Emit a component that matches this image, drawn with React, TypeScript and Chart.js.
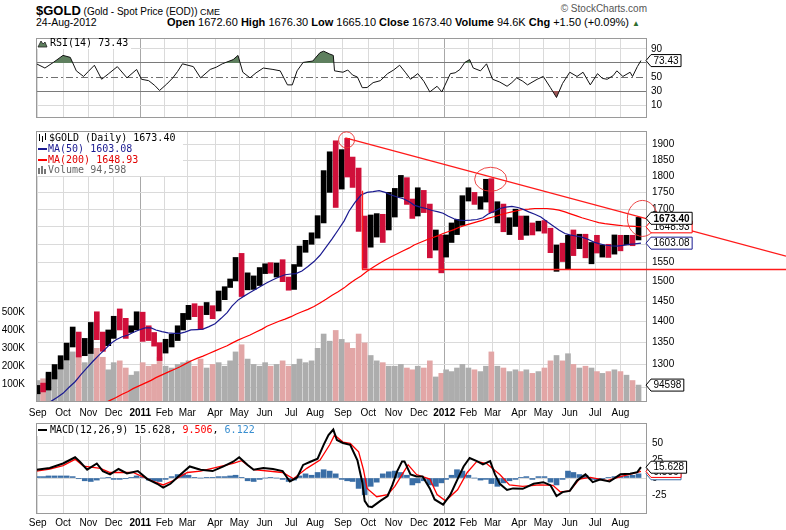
import React, { useEffect, useRef } from 'react';
import { Chart, registerables } from 'chart.js';

Chart.register(...registerables);

// ---------- calendar ----------
const FIRST_DAY = '2010-08-27';
const LAST_DAY = '2012-08-24';
const HOLIDAYS = [
  '2010-09-06', '2010-11-25', '2010-12-24', '2011-01-17', '2011-02-21', '2011-04-22',
  '2011-05-30', '2011-07-04', '2011-09-05', '2011-11-24', '2011-12-26', '2012-01-02',
  '2012-01-16', '2012-02-20', '2012-04-06', '2012-05-28', '2012-07-04',
];
const MONTH_NAMES = ['Jan', 'Feb', 'Mar', 'Apr', 'May', 'Jun', 'Jul', 'Aug', 'Sep', 'Oct', 'Nov', 'Dec'];

// ---------- weekly price data (weeks ending Fri, 2010-09-03 .. 2012-08-24) ----------
const PREV_CLOSE = 1237;
const WEEK_HIGH = [
  1254, 1259, 1283, 1300, 1320, 1349, 1387, 1375, 1360, 1398,
  1424, 1375, 1380, 1413, 1431, 1408, 1390, 1424, 1423, 1390,
  1374, 1350, 1358, 1370, 1390, 1420, 1440, 1444, 1438, 1447,
  1439, 1476, 1487, 1507, 1564, 1575, 1523, 1515, 1537, 1547,
  1550, 1549, 1558, 1512, 1545, 1595, 1611, 1632, 1681, 1817,
  1877, 1913, 1884, 1921, 1860, 1825, 1680, 1683, 1687, 1685,
  1750, 1762, 1802, 1795, 1730, 1764, 1756, 1715, 1640, 1625,
  1626, 1660, 1670, 1740, 1764, 1750, 1737, 1790, 1792, 1722,
  1715, 1675, 1700, 1680, 1680, 1660, 1665, 1667, 1645, 1598,
  1603, 1625, 1640, 1628, 1628, 1605, 1625, 1598, 1600, 1626,
  1625, 1625, 1625, 1676,
];
const WEEK_LOW = [
  1236, 1240, 1244, 1268, 1290, 1310, 1340, 1317, 1320, 1325,
  1357, 1330, 1343, 1360, 1380, 1360, 1374, 1380, 1353, 1355,
  1342, 1309, 1326, 1340, 1355, 1380, 1405, 1412, 1381, 1417,
  1407, 1426, 1454, 1485, 1502, 1462, 1479, 1480, 1490, 1521,
  1522, 1512, 1500, 1478, 1480, 1540, 1578, 1600, 1617, 1660,
  1750, 1705, 1760, 1797, 1765, 1636, 1535, 1592, 1620, 1605,
  1640, 1677, 1736, 1714, 1673, 1680, 1690, 1563, 1584, 1523,
  1565, 1605, 1627, 1653, 1724, 1714, 1700, 1721, 1690, 1660,
  1635, 1627, 1650, 1613, 1625, 1626, 1637, 1631, 1577, 1527,
  1553, 1532, 1569, 1588, 1563, 1547, 1576, 1565, 1564, 1573,
  1582, 1598, 1596, 1612,
];
const WEEK_CLOSE = [
  1248, 1246, 1276, 1296, 1317, 1345, 1370, 1325, 1357, 1394,
  1367, 1353, 1363, 1406, 1385, 1376, 1380, 1421, 1369, 1360,
  1343, 1339, 1348, 1361, 1388, 1409, 1429, 1420, 1418, 1430,
  1429, 1474, 1486, 1504, 1556, 1492, 1493, 1510, 1536, 1542,
  1529, 1539, 1502, 1483, 1542, 1592, 1602, 1628, 1663, 1745,
  1852, 1828, 1876, 1855, 1813, 1657, 1624, 1636, 1683, 1642,
  1746, 1753, 1788, 1724, 1685, 1746, 1711, 1598, 1606, 1566,
  1617, 1639, 1665, 1738, 1740, 1722, 1725, 1776, 1710, 1712,
  1656, 1662, 1668, 1629, 1660, 1642, 1663, 1644, 1580, 1592,
  1572, 1622, 1596, 1626, 1566, 1604, 1578, 1591, 1583, 1618,
  1605, 1620, 1616, 1673,
];
// average daily volume per week, thousands
const WEEK_VOLUME_K = [
  120, 130, 160, 170, 210, 230, 280, 260, 220, 270, 300, 250, 180, 220, 230, 190, 150, 170,
  220, 200, 210, 250, 200, 190, 210, 220, 230, 200, 240, 190, 210, 220, 200, 230, 280,
  320, 240, 210, 200, 220, 200, 210, 230, 200, 210, 240, 220, 230, 300, 380, 340, 400,
  350, 330, 300, 380, 330, 260, 230, 220, 200, 200, 210, 190, 180, 200, 190, 230, 140, 160,
  180, 170, 190, 210, 190, 180, 170, 200, 280, 200, 190, 170, 180, 170, 180, 160, 170,
  190, 230, 260, 230, 270, 210, 190, 200, 190, 170, 160, 170, 180, 170, 150, 120, 94.598,
];
const MA50 = [
  1213, 1216, 1220, 1228, 1237, 1250, 1262, 1278, 1293, 1308,
  1322, 1335, 1347, 1357, 1364, 1368, 1374, 1380, 1385, 1385,
  1380, 1376, 1373, 1372, 1372, 1375, 1380, 1381, 1382, 1388,
  1395, 1408, 1422, 1438, 1453, 1463, 1472, 1481, 1490, 1497,
  1505, 1512, 1518, 1520, 1521, 1528, 1540, 1553, 1570, 1592,
  1615, 1640, 1666, 1694, 1720, 1742, 1750, 1752, 1755, 1750,
  1742, 1736, 1731, 1722, 1712, 1706, 1702, 1696, 1692, 1688,
  1680, 1672, 1668, 1667, 1668, 1670, 1675, 1685, 1693, 1702,
  1706, 1708, 1705, 1700, 1692, 1685, 1677, 1664, 1652, 1640,
  1630, 1626, 1623, 1620, 1614, 1606, 1602, 1598, 1596, 1595,
  1597, 1600, 1601, 1603.08,
];
const MA200 = [
  null, null, null, null, null, null, null, null, null, null,
  null, 1217, 1222, 1228, 1235, 1241, 1247, 1253, 1259, 1265,
  1271, 1277, 1283, 1289, 1295, 1301, 1308, 1314, 1319, 1325,
  1331, 1337, 1343, 1349, 1356, 1362, 1368, 1375, 1382, 1389,
  1395, 1401, 1406, 1412, 1418, 1424, 1430, 1437, 1446, 1455,
  1465, 1474, 1484, 1494, 1505, 1515, 1527, 1538, 1548, 1557,
  1566, 1574, 1582, 1590, 1598, 1605, 1612, 1618, 1624, 1630,
  1635, 1641, 1647, 1653, 1658, 1663, 1668, 1673, 1678, 1683,
  1688, 1692, 1696, 1699, 1700, 1702, 1702, 1702, 1700, 1697,
  1692, 1687, 1681, 1675, 1670, 1665, 1661, 1658, 1656, 1654,
  1652, 1651, 1650, 1648.93,
];
const MACD_HIST = [
  2, 2, 3, 3, 3, 3, 2, -1, -4, -5,
  -3, 0, 1, -2, -2, -1, 1, 3, 1, -3,
  -4, -5, -2, 2, 5, 6, 4, 1, 0, 1,
  1, 2, 2, 3, 4, 1, -4, -5, -2, 0,
  1, 0, -2, -5, -3, 3, 6, 4, 8, 12,
  10, 6, -2, -4, -5, -15, -24, -12, -6, 6,
  9, 10, 8, 4, -10, -7, -4, -10, -12, -7,
  -2, 4, 12, 10, 4, 0, -3, -2, -8, -12,
  -7, -4, -2, 1, 2, -2, 2, 2, -6, -10,
  -2, 10, 8, 5, 4, -2, -3, -1, 1, 2,
  3, 3, 4, 6,
];

// ---------- daily indicator readings: [trading-day index, value] ----------
const RSI_POINTS = [
  [2, 68.8], [9, 62.8], [16, 70.8], [24, 80.8], [30, 78], [35, 58.8], [41, 50.8], [45, 58], [50, 66.8],
  [56, 46.8], [62, 55], [69, 64.8], [77, 48.8], [85, 60.8], [89, 46.8], [95, 44.8], [100, 38], [104, 30.8],
  [110, 40], [115, 48.8], [119, 58], [123, 68.8], [132, 64.8], [138, 48.8], [146, 60.8], [151, 64],
  [156, 68.8], [165, 74.8], [169, 80.8], [173, 56.8], [179, 48.8], [184, 56], [190, 62.8], [198, 60.8],
  [204, 58.8], [210, 38.8], [214, 38.8], [218, 58.8], [223, 70.8], [231, 72.8], [237, 84.8], [240, 86.8],
  [245, 82.8], [248, 80.8], [249, 58.8], [256, 56.8], [260, 60], [264, 52.8], [268, 50], [272, 34.8],
  [276, 35], [281, 42], [287, 44.8], [293, 54.8], [298, 60], [303, 66.8], [308, 56], [312, 46.8],
  [318, 54.8], [323, 44], [328, 28.8], [334, 36.8], [338, 28.8], [345, 54.8], [349, 56], [353, 60.8],
  [357, 70.8], [361, 74.8], [364, 62.8], [370, 58.8], [375, 68.8], [380, 46.8], [386, 42.8], [392, 36.8],
  [396, 42], [400, 48.8], [405, 44], [409, 38.8], [417, 46.8], [422, 50.8], [428, 34.8], [433, 20.8],
  [438, 40.8], [444, 56.8], [450, 50.8], [455, 56.8], [461, 38.8], [467, 54.8], [471, 48], [475, 46.8],
  [480, 52], [483, 58.8], [488, 50.8], [494, 56.8], [496, 50.8], [500, 64.8], [503, 73.43],
];
const MACD_POINTS = [
  [2, 12], [13, 14.4], [24, 21], [34, 30], [38, 23.5], [44, 12], [52, 21], [57, 10], [63, 5.3], [70, 13],
  [77, 6.7], [86, 10], [94, -1.5], [102, -8.3], [107, -14], [113, -8.3], [123, 7.6], [129, 16.7],
  [138, 12], [148, 10], [157, 16.7], [165, 23.5], [170, 30], [177, 18.9], [182, 12], [190, 14.4],
  [198, 13], [206, 10], [212, -5], [218, 0.8], [223, 18.9], [229, 23.5], [235, 28], [240, 48],
  [244, 62], [248, 70], [251, 55], [256, 50.6], [262, 48], [268, 25.6], [272, -6], [274, -33],
  [277, -41], [280, -42], [287, -33], [293, -26], [297, -10], [301, 10], [305, 24], [307, 24],
  [312, 5.3], [317, 2.2], [322, 2.2], [328, -15], [332, -31], [339, -38.5], [345, -24], [351, -1.5],
  [356, 16.7], [361, 28.9], [367, 24.3], [372, 19.8], [378, 24.3], [382, 5.3], [386, -8.3], [392, -17.3],
  [397, -15], [405, -15.6], [414, -8.3], [422, -6], [428, -10.5], [433, -26], [438, -20.4], [444, -18.6],
  [450, -3.7], [457, 5.3], [463, -6], [469, -2.3], [477, -5], [486, 5.3], [494, 6.2], [500, 8.5], [503, 15.628],
];
const SIGNAL_POINTS = [
  [2, 10], [13, 13], [24, 18], [34, 27], [41, 17], [55, 14], [63, 8], [82, 8], [99, -5], [107, -10],
  [115, -4], [127, 8], [138, 10], [165, 21], [172, 25], [182, 12], [206, 8], [215, -1], [226, 14],
  [237, 26], [245, 48], [249, 62], [256, 52], [262, 50], [269, 38], [273, 12], [276, -15], [284, -27],
  [293, -24], [299, -12], [305, 5], [310, 19], [317, 5], [328, -1.5], [334, -24], [341, -33], [351, -17],
  [359, 8], [367, 24], [375, 21], [386, 5], [394, -10], [405, -12], [419, -10], [430, -10.5], [436, -20],
  [444, -18.6], [452, -1.5], [461, 0.8], [475, -3.7], [486, 2], [496, 6.2], [503, 9.506],
];

// ---------- annotations drawn on the price panel (trading-day index, price) ----------
const TREND_ANCHORS = [[258, 1923], [379, 1797]];
const SUPPORT_LINE = [272, 1755, 1532]; // day, top price of vertical, support price
const CIRCLE_CENTERS = [[259, 1916], [378.4, 1790], [504.2, 1673]];

// ---------- axes ----------
const PRICE_TICKS = [1250, 1300, 1350, 1400, 1450, 1500, 1550, 1600, 1650, 1700, 1750, 1800, 1850, 1900];
const VOLUME_TICKS = [100000, 200000, 300000, 400000, 500000];
const RSI_TICKS = [10, 30, 50, 70, 90];
const MACD_TICKS = [-25, 0, 25, 50];

// ---------- derived calendar helpers ----------
const TRADING_DAYS: string[] = (() => {
  const out: string[] = [];
  for (let t = Date.parse(FIRST_DAY); t <= Date.parse(LAST_DAY); t += 864e5) {
    const d = new Date(t);
    const wd = d.getUTCDay();
    if (wd === 0 || wd === 6) continue;
    const s = d.toISOString().slice(0, 10);
    if (HOLIDAYS.includes(s)) continue;
    out.push(s);
  }
  return out;
})();
const weekNumber = (s: string) => Math.floor((Date.parse(s) - Date.parse('2010-08-28')) / (7 * 864e5)) + 1;
const WEEK_FIRST: number[] = [];
const WEEK_LAST: number[] = [];
TRADING_DAYS.forEach((s, i) => {
  const w = weekNumber(s);
  if (WEEK_FIRST[w] === undefined) WEEK_FIRST[w] = i;
  WEEK_LAST[w] = i;
});
const weekMid = (k: number) => (WEEK_FIRST[k + 1] + WEEK_LAST[k + 1]) / 2;
const weekEnd = (k: number) => WEEK_LAST[k + 1];

const MONTH_TICKS: { value: number; label: string; year: boolean }[] = [];
TRADING_DAYS.forEach((s, i) => {
  if (i > 0 && s.slice(5, 7) !== TRADING_DAYS[i - 1].slice(5, 7)) {
    const m = +s.slice(5, 7);
    MONTH_TICKS.push({ value: i, label: m === 1 ? s.slice(0, 4) : MONTH_NAMES[m - 1], year: m === 1 });
  }
});
const tickInfo = (v: number) => MONTH_TICKS.find((t) => t.value === v);

const X_MIN = 1.6;
const X_MAX = 508;
const AXIS_FONT = "'Liberation Sans', Arial, sans-serif";
const MONO = "'DejaVu Sans Mono', monospace";
const RIGHT_W = 139;

const xScale = (labels: boolean, height: number, pad: number) => ({
  type: 'linear',
  min: X_MIN,
  max: X_MAX,
  offset: false,
  afterBuildTicks: (s: any) => {
    s.ticks = MONTH_TICKS.map((t) => ({ value: t.value }));
  },
  afterFit: (s: any) => {
    s.height = height;
  },
  ticks: {
    display: labels,
    autoSkip: false,
    maxRotation: 0,
    padding: pad,
    color: '#000',
    font: (c: any) => ({
      family: AXIS_FONT,
      size: 10,
      weight: c.tick && tickInfo(c.tick.value)?.year ? 'bold' : 'normal',
    }),
    callback: (v: any) => tickInfo(v)?.label ?? '',
  },
  grid: {
    offset: false,
    drawTicks: false,
    color: (c: any) => (c.tick && tickInfo(c.tick.value)?.year ? '#a8a8a8' : '#dadada'),
  },
  border: { display: false },
});

function drawBorder(chart: any) {
  const { ctx, chartArea: a } = chart;
  ctx.save();
  ctx.strokeStyle = '#9a9a9a';
  ctx.lineWidth = 1;
  ctx.strokeRect(Math.round(a.left) + 0.5, Math.round(a.top) + 0.5, Math.round(a.right - a.left) - 1, Math.round(a.bottom - a.top) - 1);
  ctx.restore();
}

function tag(ctx: any, x: number, y: number, text: string, border: string, bold = false) {
  ctx.save();
  ctx.font = `${bold ? 'bold ' : ''}10px ${AXIS_FONT}`;
  const w = ctx.measureText(text).width + 5;
  const h = 12;
  const x0 = x + 4;
  ctx.beginPath();
  ctx.moveTo(x - 1, y);
  ctx.lineTo(x0, y - h / 2);
  ctx.lineTo(x0 + w, y - h / 2);
  ctx.lineTo(x0 + w, y + h / 2);
  ctx.lineTo(x0, y + h / 2);
  ctx.closePath();
  ctx.fillStyle = '#fff';
  ctx.fill();
  ctx.strokeStyle = border;
  ctx.lineWidth = 1;
  ctx.stroke();
  ctx.fillStyle = '#000';
  ctx.textBaseline = 'middle';
  ctx.textAlign = 'left';
  ctx.fillText(text, x0 + 2.5, y + 0.5);
  ctx.restore();
}

function legendText(ctx: any, x: number, y: number, parts: [string, string][]) {
  ctx.save();
  ctx.font = `10px ${MONO}`;
  ctx.textBaseline = 'middle';
  let cx = x;
  for (const [t, c] of parts) {
    ctx.fillStyle = c;
    ctx.fillText(t, cx, y);
    cx += ctx.measureText(t).width;
  }
  ctx.restore();
}

const baseOptions = {
  responsive: false,
  animation: false,
  events: [],
  plugins: { legend: { display: false }, tooltip: { enabled: false } },
};

function rsiConfig(): any {
  const data = RSI_POINTS.map(([x, y]) => ({ x, y }));
  return {
    type: 'line',
    data: {
      datasets: [
        {
          data,
          borderColor: '#111',
          borderWidth: 1,
          pointRadius: 0,
          fill: { target: { value: 70 }, above: '#5e7f5e', below: 'rgba(0,0,0,0)' },
        },
        {
          data,
          borderWidth: 0,
          borderColor: 'rgba(0,0,0,0)',
          pointRadius: 0,
          fill: { target: { value: 30 }, above: 'rgba(0,0,0,0)', below: '#9c5656' },
        },
      ],
    },
    options: {
      ...baseOptions,
      layout: { padding: { left: 36, top: 3, right: 0, bottom: 2 } },
      scales: {
        x: xScale(false, 0, 0),
        y: {
          type: 'linear',
          position: 'right',
          min: -8.4,
          max: 105.6,
          afterBuildTicks: (s: any) => {
            s.ticks = RSI_TICKS.map((v) => ({ value: v }));
          },
          afterFit: (s: any) => {
            s.width = RIGHT_W;
          },
          ticks: {
            padding: 4,
            color: '#000',
            font: { family: AXIS_FONT, size: 10 },
            callback: (v: any) => (v === 70 ? '' : String(v)),
          },
          grid: {
            drawTicks: false,
            color: (c: any) => {
              const v = c.tick?.value;
              if (v === 70 || v === 30) return '#7a7a7a';
              if (v === 50) return 'rgba(0,0,0,0)';
              return '#dadada';
            },
          },
          border: { display: false },
        },
      },
    },
    plugins: [
      {
        id: 'rsiExtras',
        beforeDatasetsDraw(chart: any) {
          const { ctx, chartArea: a, scales } = chart;
          const y = Math.round(scales.y.getPixelForValue(50)) + 0.5;
          ctx.save();
          ctx.strokeStyle = '#707070';
          ctx.lineWidth = 1;
          ctx.setLineDash([7, 3, 2, 3]);
          ctx.beginPath();
          ctx.moveTo(a.left, y);
          ctx.lineTo(a.right, y);
          ctx.stroke();
          ctx.restore();
        },
        afterDraw(chart: any) {
          const { ctx, chartArea: a, scales } = chart;
          drawBorder(chart);
          ctx.save();
          ctx.fillStyle = '#fff';
          ctx.fillRect(a.left + 1, a.top + 1, 94, 10);
          ctx.beginPath();
          ctx.moveTo(a.left + 2, a.top + 9);
          ctx.lineTo(a.left + 5, a.top + 3);
          ctx.lineTo(a.left + 7, a.top + 6);
          ctx.lineTo(a.left + 9, a.top + 4);
          ctx.lineTo(a.left + 11, a.top + 9);
          ctx.closePath();
          ctx.fillStyle = '#5e7f5e';
          ctx.fill();
          ctx.strokeStyle = '#222';
          ctx.lineWidth = 0.8;
          ctx.stroke();
          ctx.restore();
          legendText(ctx, a.left + 14, a.top + 5.5, [['RSI(14) 73.43', '#000']]);
          tag(ctx, a.right, scales.y.getPixelForValue(73.43), '73.43', '#000');
        },
      },
    ],
  };
}

function mainConfig(): any {
  const up = WEEK_CLOSE.map((c, k) => c >= (k === 0 ? PREV_CLOSE : WEEK_CLOSE[k - 1]));
  return {
    type: 'bar',
    data: {
      datasets: [
        {
          type: 'line',
          data: MA50.map((y, k) => ({ x: weekEnd(k), y })),
          borderColor: '#1a1a90',
          borderWidth: 1.2,
          pointRadius: 0,
          yAxisID: 'price',
          order: 0,
        },
        {
          type: 'line',
          data: MA200.map((y, k) => ({ x: weekEnd(k), y })),
          borderColor: '#ff0000',
          borderWidth: 1.2,
          pointRadius: 0,
          yAxisID: 'price',
          order: 1,
        },
        {
          type: 'bar',
          data: WEEK_HIGH.map((h, k) => ({ x: weekMid(k), y: [WEEK_LOW[k], h] })),
          backgroundColor: up.map((u) => (u ? '#000000' : '#d0103a')),
          barThickness: 5,
          grouped: false,
          yAxisID: 'price',
          order: 2,
        },
        {
          type: 'bar',
          data: WEEK_VOLUME_K.map((v, k) => ({ x: weekMid(k), y: v * 1000 })),
          backgroundColor: up.map((u) => (u ? '#adadad' : '#e2a6a6')),
          barThickness: 5,
          grouped: false,
          yAxisID: 'vol',
          order: 3,
        },
      ],
    },
    options: {
      ...baseOptions,
      layout: { padding: { left: 0, top: 6, right: 0, bottom: 0 } },
      scales: {
        x: xScale(true, 20, 5),
        price: {
          type: 'logarithmic',
          position: 'right',
          min: 1218.6,
          max: 1945.6,
          afterBuildTicks: (s: any) => {
            s.ticks = PRICE_TICKS.map((v) => ({ value: v }));
          },
          afterFit: (s: any) => {
            s.width = RIGHT_W;
          },
          ticks: {
            padding: 5,
            color: '#000',
            autoSkip: false,
            font: { family: AXIS_FONT, size: 10 },
            callback: (v: any) => String(v),
          },
          grid: { drawTicks: false, color: '#dadada' },
          border: { display: false },
        },
        vol: {
          type: 'linear',
          position: 'left',
          min: 0,
          max: 1515000,
          afterBuildTicks: (s: any) => {
            s.ticks = VOLUME_TICKS.map((v) => ({ value: v }));
          },
          afterFit: (s: any) => {
            s.width = 36;
          },
          ticks: {
            padding: 3,
            color: '#000',
            font: { family: AXIS_FONT, size: 10 },
            callback: (v: any) => `${v / 1000}K`,
          },
          grid: { display: false },
          border: { display: false },
        },
      },
    },
    plugins: [
      {
        id: 'mainExtras',
        afterDraw(chart: any) {
          const { ctx, chartArea: a, scales, width } = chart;
          const px = (d: number) => scales.x.getPixelForValue(d);
          const py = (p: number) => scales.price.getPixelForValue(p);
          drawBorder(chart);

          ctx.save();
          ctx.strokeStyle = '#ff1a1a';
          ctx.lineWidth = 1.3;
          const x1 = px(TREND_ANCHORS[0][0]);
          const y1 = py(TREND_ANCHORS[0][1]);
          const x2 = px(TREND_ANCHORS[1][0]);
          const y2 = py(TREND_ANCHORS[1][1]);
          const slope = (y2 - y1) / (x2 - x1);
          ctx.beginPath();
          ctx.moveTo(x1, y1);
          ctx.lineTo(width, y1 + slope * (width - x1));
          ctx.stroke();
          const sx = Math.round(px(SUPPORT_LINE[0])) + 0.5;
          const sy = Math.round(py(SUPPORT_LINE[2])) + 0.5;
          ctx.beginPath();
          ctx.moveTo(sx, py(SUPPORT_LINE[1]));
          ctx.lineTo(sx, sy);
          ctx.lineTo(width, sy);
          ctx.stroke();
          const radii = [[8, 8], [16, 12], [15, 18]];
          ctx.strokeStyle = 'rgba(235,50,50,0.9)';
          ctx.lineWidth = 1;
          CIRCLE_CENTERS.forEach(([d, p], i) => {
            ctx.beginPath();
            ctx.ellipse(px(d), py(p), radii[i][0], radii[i][1], 0, 0, Math.PI * 2);
            ctx.stroke();
          });
          ctx.restore();

          ctx.save();
          ctx.fillStyle = '#fff';
          ctx.fillRect(a.left + 1, a.top + 1, 146, 44);
          ctx.strokeStyle = '#000';
          ctx.lineWidth = 1;
          [[3, 3, 10], [6, 5, 11], [9, 2, 9]].forEach(([dx, t, b]) => {
            ctx.beginPath();
            ctx.moveTo(a.left + dx + 0.5, a.top + t);
            ctx.lineTo(a.left + dx + 0.5, a.top + b);
            ctx.stroke();
          });
          ctx.fillStyle = '#1a1a90';
          ctx.fillRect(a.left + 2, a.top + 17, 9, 2);
          ctx.fillStyle = '#ff0000';
          ctx.fillRect(a.left + 2, a.top + 28, 9, 2);
          ctx.fillStyle = '#777';
          ctx.fillRect(a.left + 2, a.top + 37, 2, 6);
          ctx.fillRect(a.left + 5, a.top + 35, 2, 8);
          ctx.fillRect(a.left + 8, a.top + 38, 2, 5);
          ctx.restore();
          legendText(ctx, a.left + 13, a.top + 7.5, [['$GOLD (Daily) 1673.40', '#000']]);
          legendText(ctx, a.left + 12, a.top + 18.5, [['MA(50) 1603.08', '#1a1a90']]);
          legendText(ctx, a.left + 12, a.top + 29.5, [['MA(200) 1648.93', '#e00000']]);
          legendText(ctx, a.left + 12, a.top + 39.5, [['Volume 94,598', '#666']]);

          tag(ctx, a.right, py(1603.08), '1603.08', '#1a1a90');
          tag(ctx, a.right, py(1648.93), '1648.93', '#ff0000');
          tag(ctx, a.right, py(1673.4), '1673.40', '#000', true);
          tag(ctx, a.right, scales.vol.getPixelForValue(94598), '94598', '#000');
        },
      },
    ],
  };
}

function macdConfig(): any {
  return {
    type: 'bar',
    data: {
      datasets: [
        {
          type: 'line',
          data: MACD_POINTS.map(([x, y]) => ({ x, y })),
          borderColor: '#000',
          borderWidth: 2,
          pointRadius: 0,
          order: 0,
        },
        {
          type: 'line',
          data: SIGNAL_POINTS.map(([x, y]) => ({ x, y })),
          borderColor: '#ff0000',
          borderWidth: 1.3,
          pointRadius: 0,
          order: 1,
        },
        {
          type: 'bar',
          data: MACD_HIST.map((v, k) => ({ x: weekMid(k), y: v })),
          backgroundColor: '#3a6ea6',
          barThickness: 5,
          grouped: false,
          order: 2,
        },
      ],
    },
    options: {
      ...baseOptions,
      layout: { padding: { left: 36, top: 5, right: 0, bottom: 0 } },
      scales: {
        x: xScale(true, 16, 3),
        y: {
          type: 'linear',
          position: 'right',
          min: -52,
          max: 79.5,
          afterBuildTicks: (s: any) => {
            s.ticks = MACD_TICKS.map((v) => ({ value: v }));
          },
          afterFit: (s: any) => {
            s.width = RIGHT_W;
          },
          ticks: {
            padding: 5,
            color: '#000',
            font: { family: AXIS_FONT, size: 10 },
            callback: (v: any) => String(v),
          },
          grid: { drawTicks: false, color: '#dadada' },
          border: { display: false },
        },
      },
    },
    plugins: [
      {
        id: 'macdExtras',
        afterDraw(chart: any) {
          const { ctx, chartArea: a, scales } = chart;
          drawBorder(chart);
          ctx.save();
          ctx.fillStyle = '#fff';
          ctx.fillRect(a.left + 1, a.top + 1, 224, 12);
          ctx.fillStyle = '#000';
          ctx.fillRect(a.left + 2, a.top + 6, 9, 2);
          ctx.restore();
          legendText(ctx, a.left + 14, a.top + 7, [
            ['MACD(12,26,9) 15.628', '#000'],
            [', ', '#000'],
            ['9.506', '#ff0000'],
            [', ', '#000'],
            ['6.122', '#3a8fd0'],
          ]);
          tag(ctx, a.right, scales.y.getPixelForValue(6.122), '6.122', '#3a6ea6');
          tag(ctx, a.right, scales.y.getPixelForValue(9.506), '9.506', '#ff0000');
          tag(ctx, a.right, scales.y.getPixelForValue(15.628), '15.628', '#000');
        },
      },
    ],
  };
}

export default function App() {
  const rsiRef = useRef<HTMLCanvasElement>(null);
  const mainRef = useRef<HTMLCanvasElement>(null);
  const macdRef = useRef<HTMLCanvasElement>(null);

  useEffect(() => {
    const charts = [
      new Chart(rsiRef.current as HTMLCanvasElement, rsiConfig()),
      new Chart(mainRef.current as HTMLCanvasElement, mainConfig()),
      new Chart(macdRef.current as HTMLCanvasElement, macdConfig()),
    ];
    return () => charts.forEach((c) => c.destroy());
  }, []);

  const abs = (left: number, top: number): any => ({ position: 'absolute', left, top });

  return (
    <div
      style={{
        position: 'absolute',
        left: 0,
        top: 0,
        width: 786,
        height: 530,
        background: '#fff',
        overflow: 'hidden',
        fontFamily: AXIS_FONT,
        color: '#000',
      }}
    >
      <div style={{ ...abs(36, 2), whiteSpace: 'nowrap', lineHeight: '16px' }}>
        <span style={{ fontSize: 13, fontWeight: 'bold' }}>$GOLD</span>
        <span style={{ fontSize: 10 }}> (Gold - Spot Price (EOD))</span>
        <span style={{ fontSize: 9 }}> CME</span>
      </div>
      <div style={{ ...abs(36, 16), fontSize: 10.5, lineHeight: '13px', whiteSpace: 'nowrap' }}>24-Aug-2012</div>
      <div
        style={{
          position: 'absolute',
          right: 146,
          top: 16,
          fontSize: 11,
          lineHeight: '13px',
          whiteSpace: 'nowrap',
        }}
      >
        <b>Open</b> 1672.60 <b>High</b> 1676.30 <b>Low</b> 1665.10 <b>Close</b> 1673.40 <b>Volume</b> 94.6K{' '}
        <b>Chg</b> +1.50 (+0.09%) <span style={{ color: '#2e6e2e', fontSize: 8 }}>▲</span>
      </div>
      <div style={{ position: 'absolute', right: 139, top: 3, fontSize: 10, color: '#555', whiteSpace: 'nowrap' }}>
        © StockCharts.com
      </div>
      <canvas ref={rsiRef} width={786} height={100} style={abs(0, 28)} />
      <canvas ref={mainRef} width={786} height={302} style={abs(0, 120)} />
      <canvas ref={macdRef} width={786} height={118} style={abs(0, 412)} />
    </div>
  );
}
